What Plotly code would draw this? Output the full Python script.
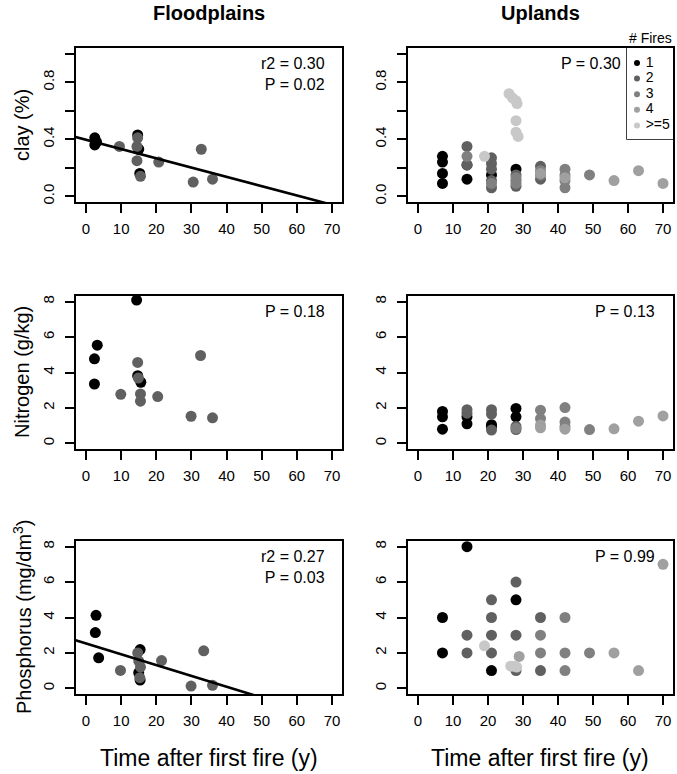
import numpy as np
import plotly.graph_objects as go

W, H = 677, 774
FONT = "Liberation Sans, Arial, sans-serif"

FIRE_CLASSES = ["1", "2", "3", "4", ">=5"]
FIRE_COLORS = ["#000000", "#606060", "#808080", "#a0a0a0", "#c8c8c8"]

# floodplains (fire class 1 or 2)
FP_CLAY_T = [2.5, 3, 2.5, 14.7, 15, 15.3, 14.7, 14.5, 14.5, 15.5, 9.5, 20.7, 30.5, 32.8, 36]
FP_CLAY_V = [0.41, 0.38, 0.36, 0.43, 0.33, 0.16, 0.41, 0.35, 0.25, 0.14, 0.35, 0.24, 0.10, 0.33, 0.12]
FP_CLAY_F = [1, 1, 1, 1, 1, 1, 2, 2, 2, 2, 2, 2, 2, 2, 2]

FP_N_T = [14.4, 3.2, 2.4, 2.4, 14.7, 15.6, 14.7, 14.9, 9.9, 15.5, 15.5, 20.4, 32.6, 29.9, 36]
FP_N_V = [8.09, 5.54, 4.77, 3.35, 3.82, 3.45, 4.57, 3.69, 2.77, 2.79, 2.38, 2.64, 4.96, 1.53, 1.44]
FP_N_F = [1, 1, 1, 1, 1, 1, 2, 2, 2, 2, 2, 2, 2, 2, 2]

FP_P_T = [2.85, 2.65, 3.6, 15.4, 15, 15.4, 9.8, 14.7, 15, 15.5, 15.3, 21.5, 33.5, 29.9, 36]
FP_P_V = [4.12, 3.15, 1.72, 2.19, 0.88, 0.47, 1.01, 2.0, 1.54, 1.2, 0.6, 1.57, 2.12, 0.13, 0.17]
FP_P_F = [1, 1, 1, 1, 1, 1, 2, 2, 2, 2, 2, 2, 2, 2, 2]

# uplands
UP_CLAY_T = [7, 7, 7, 7, 14, 14, 21, 28,
             14, 14, 21, 21, 21, 21, 21, 28, 28, 28, 35, 35,
             14, 21, 28, 28, 35, 35, 42, 42, 42, 42, 49,
             35, 42, 56, 63, 70,
             19, 26, 27, 28, 28.3, 28, 28, 28.6]
UP_CLAY_V = [0.28, 0.24, 0.16, 0.09, 0.22, 0.12, 0.15, 0.19,
             0.35, 0.22, 0.27, 0.23, 0.19, 0.11, 0.06, 0.15, 0.11, 0.07, 0.21, 0.12,
             0.28, 0.09, 0.13, 0.09, 0.18, 0.15, 0.19, 0.15, 0.11, 0.06, 0.15,
             0.16, 0.13, 0.11, 0.18, 0.09,
             0.28, 0.72, 0.69, 0.67, 0.65, 0.53, 0.45, 0.42]
UP_CLAY_F = [1] * 8 + [2] * 12 + [3] * 11 + [4] * 5 + [5] * 8

UP_N_T = [7, 7, 7, 14, 14, 21, 21, 28, 28,
          14, 14, 21, 21, 21, 28, 28,
          35, 35, 42, 42, 42, 49, 28,
          35, 35, 42, 56, 63, 70]
UP_N_V = [1.8, 1.5, 0.8, 1.5, 1.1, 1.05, 0.95, 1.97, 1.5,
          1.9, 1.7, 1.9, 1.65, 0.75, 0.95, 0.78,
          1.87, 1.4, 2.02, 1.2, 0.94, 0.78, 0.85,
          1.03, 0.88, 0.8, 0.82, 1.25, 1.55]
UP_N_F = [1] * 9 + [2] * 7 + [3] * 7 + [4] * 6

UP_P_T = [7, 7, 14, 21, 28,
          14, 14, 21, 21, 21, 21, 28, 28, 28, 35, 35,
          35, 35, 42, 42, 42, 49,
          28.9, 56, 63, 70,
          19, 26.5, 27.5, 28.2]
UP_P_V = [4, 2, 8, 1, 5,
          3, 2, 5, 4, 3, 2, 6, 3, 1, 4, 1,
          3, 2, 4, 2, 1, 2,
          1.8, 2, 1, 7,
          2.4, 1.25, 1.25, 1.2]
UP_P_F = [1] * 5 + [2] * 11 + [3] * 6 + [4] * 4 + [5] * 4

# fitted lines (floodplains only): intercept, slope
CLAY_FIT = (0.397, -0.00652)
P_FIT = (2.53, -0.061)

PANELS = [
    (FP_CLAY_T, FP_CLAY_V, FP_CLAY_F, CLAY_FIT),
    (UP_CLAY_T, UP_CLAY_V, UP_CLAY_F, None),
    (FP_N_T, FP_N_V, FP_N_F, None),
    (UP_N_T, UP_N_V, UP_N_F, None),
    (FP_P_T, FP_P_V, FP_P_F, P_FIT),
    (UP_P_T, UP_P_V, UP_P_F, None),
]
STATS = [
    ("r2 = 0.30<br>P = 0.02", 0.944),
    ("P = 0.30", 0.811),
    ("P = 0.18", 0.944),
    ("P = 0.13", 0.94),
    ("r2 = 0.27<br>P = 0.03", 0.944),
    ("P = 0.99", 0.94),
]

# pixel boxes of the panels
COLS_PX = [(76, 342), (408, 673)]
ROWS_PX = [(48, 202), (296, 449), (541, 694)]
LEGEND_PX = (627, 48, 673, 139)


def px_x(v):
    return v / W


def px_y(v):
    return 1 - v / H


fig = go.Figure()
layout = {}

for i, (t, v, f, fit) in enumerate(PANELS):
    r, c = divmod(i, 2)
    sfx = "" if i == 0 else str(i + 1)
    xa, ya = "x" + sfx, "y" + sfx
    t, v, f = np.array(t), np.array(v), np.array(f)
    for k in range(5):
        m = f == k + 1
        if not m.any():
            continue
        fig.add_scatter(
            x=t[m], y=v[m], mode="markers", xaxis=xa, yaxis=ya, showlegend=False,
            marker={"size": 11, "color": FIRE_COLORS[k], "line": {"width": 0}},
        )
    if fit is not None:
        xs = np.array([-5.0, 80.0])
        fig.add_scatter(
            x=xs, y=fit[0] + fit[1] * xs, mode="lines", xaxis=xa, yaxis=ya,
            showlegend=False, line={"color": "black", "width": 2.6},
        )

    x0, x1 = COLS_PX[c]
    y0, y1 = ROWS_PX[r]
    axis_common = dict(
        showline=True, mirror=True, linecolor="black", linewidth=1.5,
        ticks="outside", ticklen=9, tickwidth=1.5, tickcolor="black",
        showgrid=False, zeroline=False, automargin=False,
        tickfont={"size": 15, "color": "black", "family": FONT},
    )
    if r == 0:
        yax = dict(range=[-0.04, 1.04], tickvals=[0, 0.4, 0.8], ticktext=["0.0", "0.4", "0.8"],
                   minor=dict(tickvals=[0.2, 0.6, 1.0], ticks="outside", ticklen=9,
                              tickwidth=1.5, tickcolor="black", showgrid=False))
    else:
        yax = dict(range=[-0.32, 8.32], tickvals=[0, 2, 4, 6, 8])
    layout["xaxis" + sfx] = dict(
        axis_common, domain=[px_x(x0), px_x(x1)], anchor=ya, range=[-2.85, 72.85],
        tickvals=list(range(0, 71, 10)), ticklabelstandoff=3,
    )
    layout["yaxis" + sfx] = dict(
        axis_common, domain=[px_y(y1), px_y(y0)], anchor=xa,
        tickangle=-90, ticklabelstandoff=5, **yax,
    )

# hand-drawn legend in its own small axis (units = pixels inside the box)
lx0, ly0, lx1, ly1 = LEGEND_PX
fig.add_scatter(
    x=[10] * len(FIRE_CLASSES), y=[15 + 15.6 * k for k in range(len(FIRE_CLASSES))],
    mode="markers+text", text=[" " + s for s in FIRE_CLASSES], textposition="middle right",
    textfont={"size": 14, "color": "black", "family": FONT},
    marker={"size": 6, "color": FIRE_COLORS}, xaxis="x7", yaxis="y7", showlegend=False,
    cliponaxis=False,
)
layout["xaxis7"] = dict(domain=[px_x(lx0), px_x(lx1)], range=[0, lx1 - lx0], visible=False,
                        anchor="y7", fixedrange=True)
layout["yaxis7"] = dict(domain=[px_y(ly1), px_y(ly0)], range=[ly1 - ly0, 0], visible=False,
                        anchor="x7", fixedrange=True)

shapes = [dict(
    type="rect", xref="paper", yref="paper",
    x0=px_x(lx0), x1=px_x(lx1), y0=px_y(ly1), y1=px_y(ly0),
    line={"color": "black", "width": 1.5}, fillcolor="white", layer="below",
)]

annotations = []
for i, (txt, xpos) in enumerate(STATS):
    sfx = "" if i == 0 else str(i + 1)
    annotations.append(dict(
        text=txt, xref="x" + sfx + " domain", yref="y" + sfx + " domain",
        x=xpos, y=0.965, xanchor="right", yanchor="top", align="right",
        showarrow=False, font={"size": 16, "color": "black", "family": FONT},
    ))

for label, xc in [("Floodplains", 209), ("Uplands", 540)]:
    annotations.append(dict(
        text="<b>" + label + "</b>", xref="paper", yref="paper", x=px_x(xc), y=px_y(13),
        xanchor="center", yanchor="middle",
        showarrow=False, font={"size": 20, "color": "black", "family": FONT},
    ))
    annotations.append(dict(
        text="Time after first fire (y)", xref="paper", yref="paper", x=px_x(xc), y=px_y(758),
        xanchor="center", yanchor="middle",
        showarrow=False, font={"size": 23, "color": "black", "family": FONT},
    ))

for label, yc in [("clay (%)", 125), ("Nitrogen (g/kg)", 372), ("Phosphorus (mg/dm<sup>3</sup>)", 617)]:
    annotations.append(dict(
        text=label, xref="paper", yref="paper", x=px_x(22), y=px_y(yc), textangle=-90,
        xanchor="center", yanchor="middle",
        showarrow=False, font={"size": 20, "color": "black", "family": FONT},
    ))

annotations.append(dict(
    text="# Fires", xref="paper", yref="paper", x=px_x(650), y=px_y(38),
    xanchor="center", yanchor="middle",
    showarrow=False, font={"size": 14, "color": "black", "family": FONT},
))

fig.update_layout(
    layout,
    width=W, height=H,
    margin={"l": 0, "r": 0, "t": 0, "b": 0, "pad": 0},
    paper_bgcolor="white", plot_bgcolor="white",
    annotations=annotations, shapes=shapes,
    showlegend=False,
)

fig.write_html("out.html", config={"displayModeBar": False},
               post_script="document.body.style.margin = '0';")
